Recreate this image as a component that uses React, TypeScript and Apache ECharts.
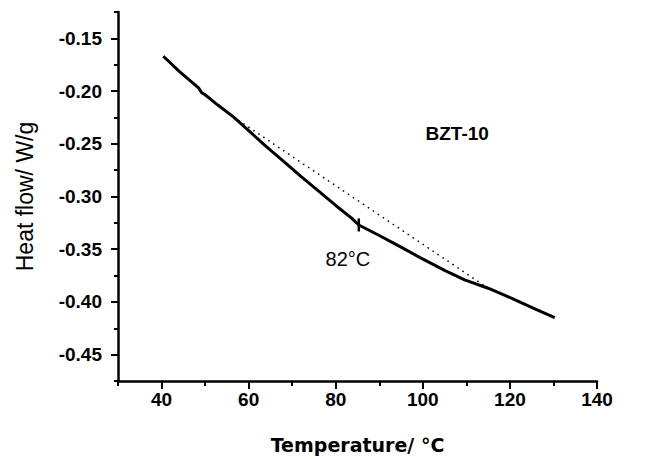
import React, { useEffect, useRef } from "react";
import * as echarts from "echarts";

// Measured DSC curve (Temperature °C, heat flow W/g)
const solidTemp = [40.4, 44, 48.5, 49.2, 50, 53, 56.5, 60.4, 64, 68.1, 72, 75.8, 80, 83.5, 85.3, 90, 95, 99.6, 105, 109.6, 115, 119, 122.7, 126.5, 130.3];
const solidFlow = [-0.167, -0.181, -0.197, -0.2015, -0.2035, -0.2135, -0.2245, -0.239, -0.2525, -0.267, -0.281, -0.294, -0.3085, -0.32, -0.327, -0.337, -0.348, -0.3585, -0.37, -0.379, -0.387, -0.394, -0.401, -0.408, -0.415];

// Dotted baseline
const baseTemp = [56.5, 115];
const baseFlow = [-0.2245, -0.387];

// Transition marker
const markTemp = [85.3];
const markFlow = [-0.327];

// Annotations
const annoText = ["82°C", "BZT-10"];
const annoTemp = [82.8, 107.9];
const annoFlow = [-0.3594, -0.2406];

// Axis ticks
const xMajor = [40, 60, 80, 100, 120, 140];
const xMinor = [30, 50, 70, 90, 110, 130];
const yMajor = [-0.45, -0.4, -0.35, -0.3, -0.25, -0.2, -0.15];
const yMinor = [-0.475, -0.425, -0.375, -0.325, -0.275, -0.225, -0.175, -0.125];

const X_MIN = 30, X_MAX = 140, Y_MIN = -0.475, Y_MAX = -0.125;

export default function App() {
  const ref = useRef<HTMLDivElement>(null);
  useEffect(() => {
    if (!ref.current) return;
    const chart = echarts.init(ref.current, null, { renderer: "svg" });
    const axisLine = { show: true, lineStyle: { color: "#000", width: 2.5 } };
    const tickFont = { color: "#000", fontFamily: "Liberation Sans, Arial, sans-serif", fontWeight: "bold" as const, fontSize: 19 };
    const annoLabel = {
      show: true, position: "inside", formatter: (p: any) => p.name,
      color: "#000", opacity: 1, textBorderWidth: 0, fontFamily: "Liberation Sans, Arial, sans-serif", fontSize: 20,
    };
    chart.setOption({
      animation: false,
      backgroundColor: "#fff",
      grid: { left: 118, right: 51, top: 12, bottom: 75, containLabel: false },
      xAxis: [
        {
          type: "value", min: X_MIN, max: X_MAX, position: "bottom",
          name: "Temperature/ °C", nameLocation: "middle", nameGap: 54,
          nameTextStyle: { color: "#000", fontFamily: "DejaVu Sans, sans-serif", fontWeight: "bold", fontSize: 19 },
          axisLine,
          axisTick: { show: true, inside: false, length: 8, customValues: xMajor, lineStyle: { color: "#000", width: 2 } },
          axisLabel: { ...tickFont, margin: 9, customValues: xMajor },
          splitLine: { show: false },
        },
        {
          type: "value", min: X_MIN, max: X_MAX, position: "bottom",
          axisLine: { show: false },
          axisTick: { show: true, inside: false, length: 5, customValues: xMinor, lineStyle: { color: "#000", width: 2 } },
          axisLabel: { show: false },
          splitLine: { show: false },
        },
      ],
      yAxis: [
        {
          type: "value", min: Y_MIN, max: Y_MAX, position: "left",
          name: "Heat flow/ W/g", nameLocation: "middle", nameGap: 82, nameRotate: 90,
          nameTextStyle: { color: "#000", fontFamily: "Liberation Sans, Arial, sans-serif", fontSize: 23 },
          axisLine,
          axisTick: { show: true, inside: false, length: 7, customValues: yMajor, lineStyle: { color: "#000", width: 2 } },
          axisLabel: { ...tickFont, margin: 16, customValues: yMajor, formatter: (v: number) => v.toFixed(2) },
          splitLine: { show: false },
        },
        {
          type: "value", min: Y_MIN, max: Y_MAX, position: "left",
          axisLine: { show: false },
          axisTick: { show: true, inside: false, length: 4, customValues: yMinor, lineStyle: { color: "#000", width: 2 } },
          axisLabel: { show: false },
          splitLine: { show: false },
        },
      ],
      series: [
        {
          type: "line", name: "Heat flow", showSymbol: false, symbol: "none",
          data: solidTemp.map((t, i) => [t, solidFlow[i]]),
          lineStyle: { color: "#000", width: 3 },
          z: 3,
        },
        {
          type: "line", name: "Baseline", showSymbol: false, symbol: "none",
          data: baseTemp.map((t, i) => [t, baseFlow[i]]),
          lineStyle: { color: "#000", width: 1.5, type: [1.5, 4.5] },
          z: 2,
        },
        {
          type: "scatter", name: "Transition",
          data: markTemp.map((t, i) => [t, markFlow[i]]),
          symbol: "rect", symbolSize: [2.5, 13],
          itemStyle: { color: "#000", opacity: 1 },
          z: 4,
        },
        {
          type: "scatter", name: "Labels", symbolSize: 0,
          itemStyle: { color: "#000", opacity: 1 },
          data: [
            { name: annoText[0], value: [annoTemp[0], annoFlow[0]] },
            { name: annoText[1], value: [annoTemp[1], annoFlow[1]], label: { fontWeight: "bold", fontSize: 19 } },
          ],
          label: annoLabel,
          z: 5,
        },
      ],
    });
    return () => chart.dispose();
  }, []);
  return <div ref={ref} style={{ position: "fixed", left: 0, top: 0, width: 648, height: 459 }} />;
}
